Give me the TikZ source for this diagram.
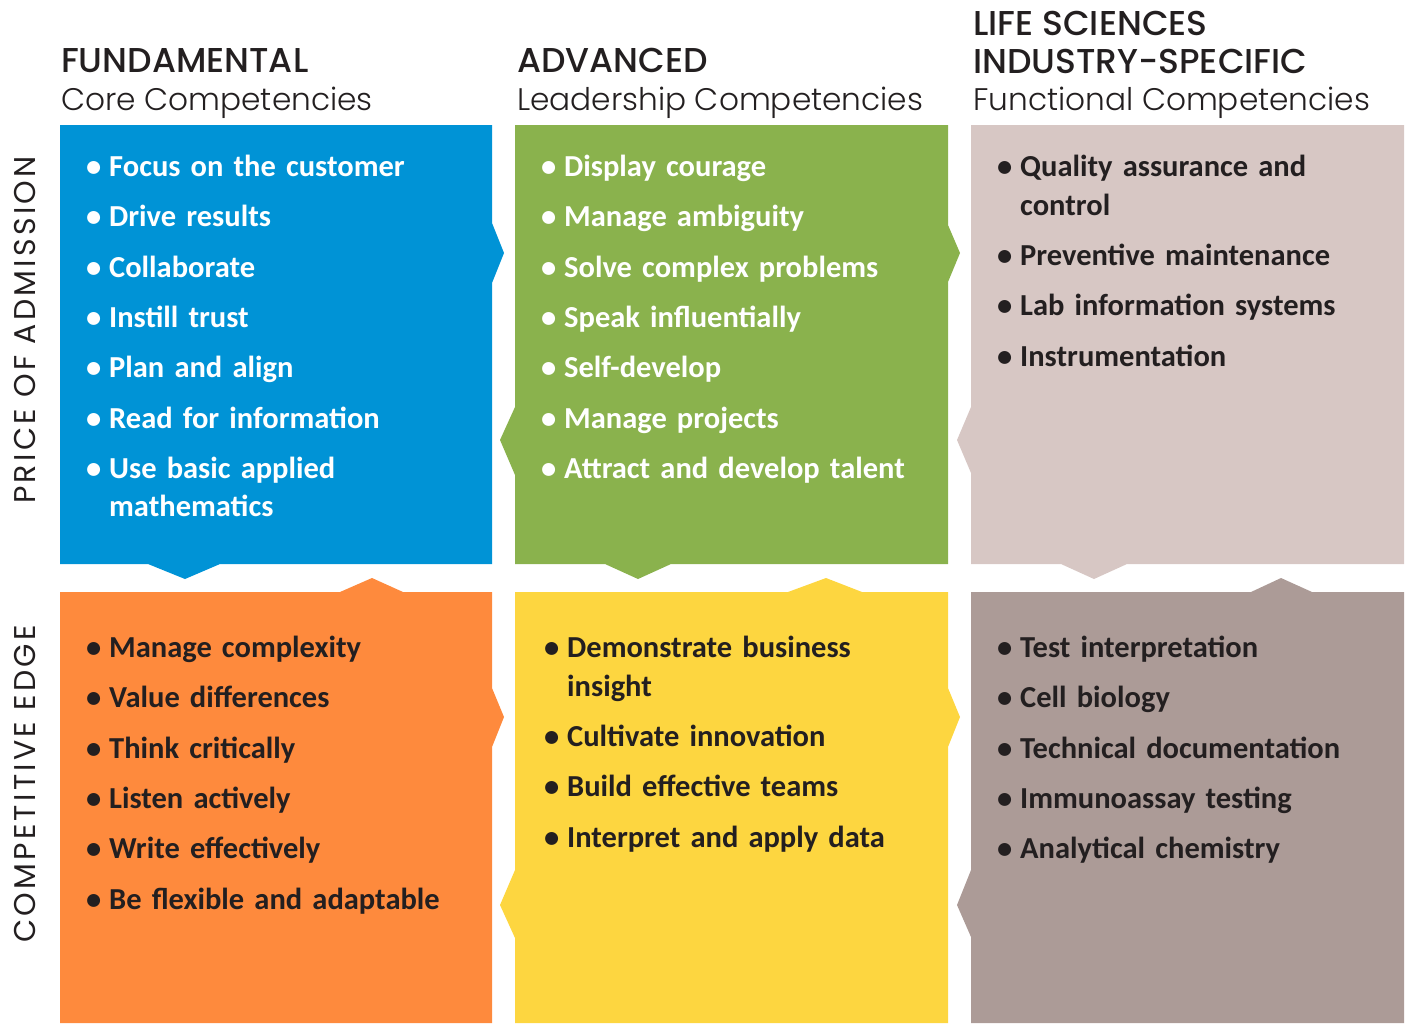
\documentclass[tikz,border=0pt]{standalone}
\usepackage{fontspec}
\setmainfont{Carlito}
\newfontfamily\headfont{Poppins Medium}
\newfontfamily\subfont{Poppins Light}
\newfontfamily\sidefont[LetterSpace=11]{Poppins}
\usepackage{xcolor}
\definecolor{coreblue}{RGB}{0, 147, 214}
\definecolor{leadgreen}{RGB}{138, 178, 77}
\definecolor{funcpink}{RGB}{215, 199, 196}
\definecolor{edgeorange}{RGB}{254, 138, 61}
\definecolor{edgeyellow}{RGB}{253, 214, 64}
\definecolor{edgemauve}{RGB}{172, 155, 151}
\definecolor{inkdark}{RGB}{35, 31, 32}
% one bullet item, bullet hung to the left of the text
\newcommand{\itm}[1]{\par\rule{0pt}{24pt}\llap{\textbullet\hspace{8pt}}#1}

\begin{document}
\begin{tikzpicture}[x=1pt, y=-1pt,
  headtitle/.style={anchor=base west, inner sep=0, text=inkdark, font=\headfont\fontsize{34.5pt}{34.5pt}\selectfont},
  headsub/.style={anchor=base west, inner sep=0, text=inkdark, font=\subfont\fontsize{31.2pt}{31.2pt}\selectfont},
  sidelabel/.style={anchor=base, inner sep=0, rotate=90, text=inkdark, font=\sidefont\fontsize{30pt}{30pt}\selectfont},
  itemlist/.style={anchor=north west, inner sep=0, text width=390pt, align=left,
    font=\bfseries\fontsize{30.5pt}{38.6pt}\selectfont\setlength{\parskip}{11.7pt}}]
\useasboundingbox (0,0) rectangle (1408,1023);

% Top row panels
\fill[coreblue] (60,125) -- (492,125) -- (492,223) -- (504,253) -- (492,283) -- (492,564)
  -- (220,564) -- (185,579) -- (148,564) -- (60,564) -- cycle;
\fill[leadgreen] (515,125) -- (948,125) -- (948,225) -- (960,253) -- (948,282) -- (948,564)
  -- (671,564) -- (638,579) -- (605,564) -- (515,564) -- (515,475) -- (500,440) -- (515,407) -- cycle;
\fill[funcpink] (971,125) -- (1404,125) -- (1404,564) -- (1127,564) -- (1094,579) -- (1061,564)
  -- (971,564) -- (971,473) -- (957,440) -- (971,407) -- cycle;

% Bottom row panels
\fill[edgeorange] (60,592) -- (340,592) -- (372,578) -- (403,592) -- (492,592) -- (492,688)
  -- (504,717) -- (492,747) -- (492,1023) -- (60,1023) -- cycle;
\fill[edgeyellow] (515,592) -- (788,592) -- (826,578) -- (862,592) -- (948,592) -- (948,688)
  -- (960,717) -- (948,747) -- (948,1023) -- (515,1023) -- (515,938) -- (500,905) -- (515,870) -- cycle;
\fill[edgemauve] (971,592) -- (1251,592) -- (1281,578) -- (1312,592) -- (1404,592) -- (1404,1023)
  -- (971,1023) -- (971,937) -- (957,905) -- (971,870) -- cycle;

% Column headings
\node[headtitle] (coretitle) at (61,72) {FUNDAMENTAL};
\node[headsub] (coresub) at (61,110) {Core Competencies};
\node[headtitle] (leadtitle) at (517,72) {ADVANCED};
\node[headsub] (leadsub) at (517,110) {Leadership Competencies};
\node[headtitle] (functitle) at (973,35) {LIFE SCIENCES};
\node[headtitle] (functitleb) at (973,73) {INDUSTRY-SPECIFIC};
\node[headsub] (funcsub) at (973,110) {Functional Competencies};

% Row labels
\node[sidelabel] (admission) at (35,330) {PRICE OF ADMISSION};
\node[sidelabel] (edge) at (35,784) {COMPETITIVE EDGE};

% Competency lists
\node[itemlist, text=white] (corelist) at (109,126) {\itm{Focus on the customer}\itm{Drive results}
  \itm{Collaborate}\itm{Instill trust}\itm{Plan and align}\itm{Read for information}
  \itm{Use basic applied\newline mathematics}};
\node[itemlist, text=white] (leadlist) at (564,126) {\itm{Display courage}\itm{Manage ambiguity}
  \itm{Solve complex problems}\itm{Speak influentially}\itm{Self-develop}\itm{Manage projects}
  \itm{Attract and develop talent}};
\node[itemlist, text=inkdark] (funclist) at (1020,126) {\itm{Quality assurance and\newline control}
  \itm{Preventive maintenance}\itm{Lab information systems}\itm{Instrumentation}};
\node[itemlist, text=inkdark] (corelistb) at (109,607) {\itm{Manage complexity}\itm{Value differences}
  \itm{Think critically}\itm{Listen actively}\itm{Write effectively}\itm{Be flexible and adaptable}};
\node[itemlist, text=inkdark] (leadlistb) at (567,607) {\itm{Demonstrate business\newline insight}
  \itm{Cultivate innovation}\itm{Build effective teams}\itm{Interpret and apply data}};
\node[itemlist, text=inkdark] (funclistb) at (1020,607) {\itm{Test interpretation}\itm{Cell biology}
  \itm{Technical documentation}\itm{Immunoassay testing}\itm{Analytical chemistry}};

\end{tikzpicture}
\end{document}
